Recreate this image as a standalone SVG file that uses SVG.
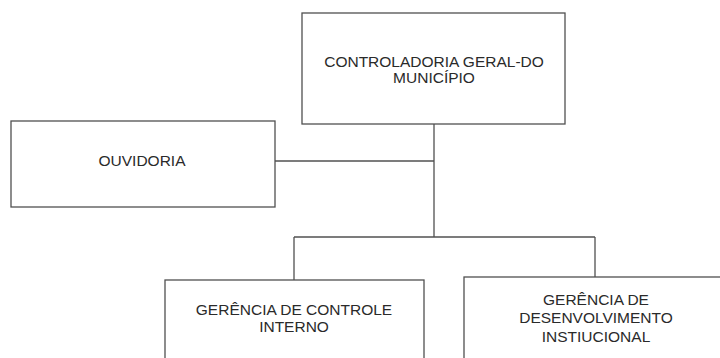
<svg xmlns="http://www.w3.org/2000/svg" width="720" height="358" viewBox="0 0 720 358">
<style>
.box{fill:#fff;stroke:#505050;stroke-width:1.3}
.t{font-family:"Liberation Sans",Arial,sans-serif;font-size:15.5px;fill:#2a2a2a;text-anchor:middle}
.c{fill:none;stroke:#505050;stroke-width:1.3}
</style>
<rect width="720" height="358" fill="#fff"/>
<g id="connectors">
<path class="c" d="M434 124V237"/>
<path class="c" d="M275 161H434"/>
<path class="c" d="M294 237H595"/>
<path class="c" d="M294 237V280"/>
<path class="c" d="M595 237V277"/>
</g>
<g id="controladoria">
<rect class="box" x="302" y="13" width="263" height="111"/>
<text class="t" x="434" y="67">CONTROLADORIA GERAL-DO</text>
<text class="t" x="434" y="83">MUNICÍPIO</text>
</g>
<g id="ouvidoria">
<rect class="box" x="11" y="121" width="264" height="86"/>
<text class="t" x="142" y="166">OUVIDORIA</text>
</g>
<g id="gerencia-controle">
<rect class="box" x="165" y="280" width="259" height="100"/>
<text class="t" x="294" y="315">GERÊNCIA DE CONTROLE</text>
<text class="t" x="294" y="332">INTERNO</text>
</g>
<g id="gerencia-desenvolvimento">
<rect class="box" x="464" y="277" width="270" height="100"/>
<text class="t" x="596" y="305">GERÊNCIA DE</text>
<text class="t" x="596" y="323">DESENVOLVIMENTO</text>
<text class="t" x="596" y="342">INSTIUCIONAL</text>
</g>
</svg>
